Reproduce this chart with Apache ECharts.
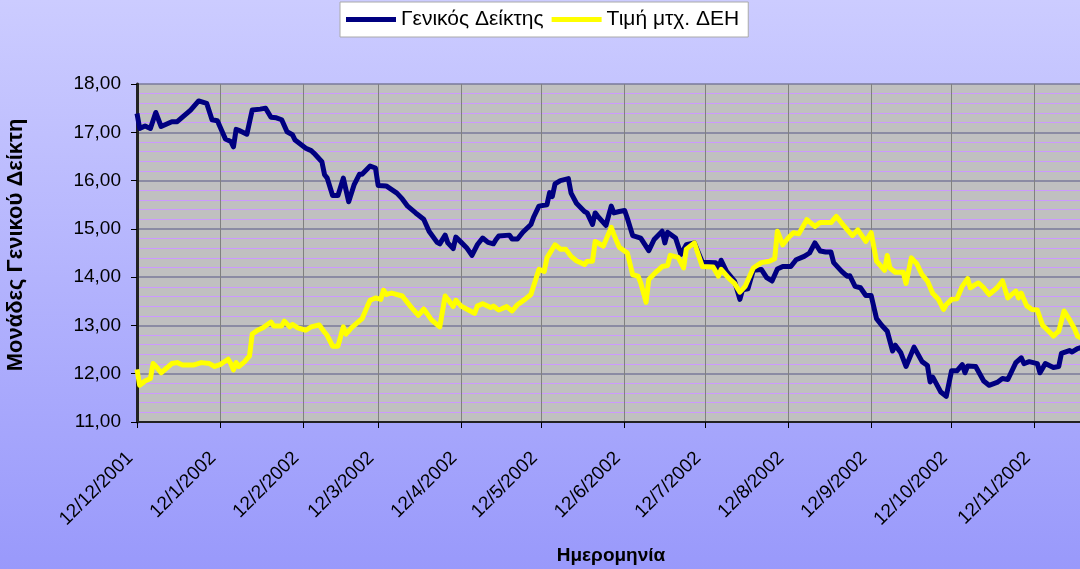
<!DOCTYPE html>
<html>
<head>
<meta charset="utf-8">
<script src="https://cdn.jsdelivr.net/npm/echarts@6/dist/echarts.min.js"></script>
<style>
  html, body { margin: 0; padding: 0; }
  #chart { width: 1080px; height: 569px; }
</style>
</head>
<body>
<div id="chart"></div>
<script>
// Γενικός Δείκτης
var indexDates = ['2001-12-12','2001-12-13','2001-12-15','2001-12-17','2001-12-19','2001-12-21','2001-12-25','2001-12-27',
  '2002-01-01','2002-01-04','2002-01-07','2002-01-09','2002-01-11','2002-01-14','2002-01-16','2002-01-17','2002-01-18','2002-01-19',
  '2002-01-22','2002-01-24','2002-01-27','2002-01-29','2002-01-31','2002-02-02','2002-02-04','2002-02-06','2002-02-08','2002-02-09',
  '2002-02-13','2002-02-15','2002-02-16','2002-02-19','2002-02-20','2002-02-21','2002-02-23','2002-02-25','2002-02-27','2002-03-01',
  '2002-03-03','2002-03-05','2002-03-06','2002-03-09','2002-03-11','2002-03-12','2002-03-15','2002-03-19','2002-03-21','2002-03-23',
  '2002-03-26','2002-03-29','2002-03-31','2002-04-03','2002-04-04','2002-04-06','2002-04-07','2002-04-09','2002-04-10','2002-04-12',
  '2002-04-14','2002-04-16','2002-04-18','2002-04-20','2002-04-22','2002-04-24','2002-04-25','2002-04-26','2002-04-30','2002-05-01',
  '2002-05-03','2002-05-05','2002-05-08','2002-05-09','2002-05-11','2002-05-14','2002-05-15','2002-05-16','2002-05-17','2002-05-19',
  '2002-05-22','2002-05-23','2002-05-25','2002-05-28','2002-05-29','2002-05-31','2002-06-01','2002-06-02','2002-06-05','2002-06-07',
  '2002-06-08','2002-06-10','2002-06-12','2002-06-13','2002-06-15','2002-06-18','2002-06-21','2002-06-23','2002-06-26','2002-06-27',
  '2002-06-28','2002-07-01','2002-07-03','2002-07-05','2002-07-08','2002-07-11','2002-07-16','2002-07-17','2002-07-18','2002-07-20',
  '2002-07-23','2002-07-25','2002-07-26','2002-07-28','2002-07-30','2002-08-02','2002-08-04','2002-08-06','2002-08-08','2002-08-10',
  '2002-08-13','2002-08-15','2002-08-18','2002-08-20','2002-08-22','2002-08-24','2002-08-26','2002-08-28','2002-08-29','2002-09-01',
  '2002-09-03','2002-09-04','2002-09-06','2002-09-08','2002-09-10','2002-09-12','2002-09-14','2002-09-16','2002-09-18','2002-09-20',
  '2002-09-21','2002-09-23','2002-09-25','2002-09-28','2002-10-01','2002-10-03','2002-10-04','2002-10-05','2002-10-08','2002-10-10',
  '2002-10-12','2002-10-14','2002-10-16','2002-10-17','2002-10-18','2002-10-21','2002-10-24','2002-10-26','2002-10-29','2002-10-31',
  '2002-11-02','2002-11-05','2002-11-07','2002-11-08','2002-11-10','2002-11-13','2002-11-14','2002-11-16','2002-11-19','2002-11-21',
  '2002-11-22','2002-11-25','2002-11-26','2002-11-28','2002-11-30','2002-12-02'];
var indexValues = [17.39,17.08,17.13,17.08,17.41,17.12,17.22,17.22,
  17.46,17.65,17.60,17.26,17.24,16.86,16.81,16.70,17.06,17.04,
  16.96,17.46,17.48,17.50,17.31,17.30,17.26,17.01,16.95,16.84,
  16.67,16.62,16.57,16.39,16.12,16.05,15.69,15.69,16.05,15.56,
  15.91,16.13,16.13,16.30,16.26,15.90,15.89,15.74,15.62,15.47,
  15.33,15.20,14.95,14.72,14.69,14.87,14.71,14.59,14.83,14.72,
  14.61,14.45,14.67,14.81,14.72,14.69,14.78,14.85,14.87,14.79,
  14.79,14.93,15.09,15.24,15.47,15.50,15.75,15.67,15.93,16.00,
  16.04,15.74,15.53,15.36,15.33,15.09,15.33,15.26,15.07,15.47,
  15.33,15.36,15.38,15.22,14.86,14.81,14.55,14.78,14.95,14.71,
  14.93,14.81,14.47,14.67,14.71,14.31,14.30,14.17,14.35,14.12,
  13.92,13.54,13.74,13.76,14.14,14.16,13.99,13.92,14.17,14.22,
  14.22,14.36,14.43,14.50,14.71,14.54,14.52,14.52,14.30,14.12,
  14.02,14.03,13.81,13.78,13.62,13.62,13.14,13.00,12.88,12.47,
  12.59,12.44,12.15,12.55,12.25,12.17,11.83,11.93,11.62,11.53,
  12.06,12.06,12.19,12.02,12.16,12.15,11.85,11.76,11.82,11.90,
  11.88,12.23,12.33,12.21,12.25,12.21,12.02,12.21,12.13,12.15,
  12.42,12.48,12.45,12.52,12.55,12.58];

// Τιμή μτχ. ΔΕΗ
var dehDates = ['2001-12-12','2001-12-13','2001-12-15','2001-12-17','2001-12-18','2001-12-19','2001-12-21','2001-12-25','2001-12-27','2001-12-29',
  '2002-01-02','2002-01-05','2002-01-08','2002-01-10','2002-01-12','2002-01-15','2002-01-16','2002-01-17','2002-01-18','2002-01-19',
  '2002-01-21','2002-01-23','2002-01-24','2002-01-26','2002-01-28','2002-01-31','2002-02-01','2002-02-04','2002-02-05','2002-02-07',
  '2002-02-08','2002-02-10','2002-02-13','2002-02-15','2002-02-18','2002-02-20','2002-02-21','2002-02-23','2002-02-25','2002-02-27',
  '2002-02-28','2002-03-02','2002-03-06','2002-03-08','2002-03-09','2002-03-11','2002-03-13','2002-03-14','2002-03-15','2002-03-17',
  '2002-03-21','2002-03-24','2002-03-27','2002-03-29','2002-04-01','2002-04-04','2002-04-06','2002-04-07','2002-04-09','2002-04-10',
  '2002-04-12','2002-04-14','2002-04-17','2002-04-18','2002-04-20','2002-04-23','2002-04-24','2002-04-26','2002-04-29','2002-05-01',
  '2002-05-03','2002-05-06','2002-05-08','2002-05-11','2002-05-13','2002-05-14','2002-05-17','2002-05-19','2002-05-21','2002-05-23',
  '2002-05-25','2002-05-28','2002-05-29','2002-05-31','2002-06-01','2002-06-02','2002-06-04','2002-06-07','2002-06-08','2002-06-10',
  '2002-06-13','2002-06-15','2002-06-17','2002-06-18','2002-06-20','2002-06-21','2002-06-24','2002-06-26','2002-06-28','2002-06-29',
  '2002-07-02','2002-07-04','2002-07-05','2002-07-08','2002-07-11','2002-07-15','2002-07-17','2002-07-18','2002-07-21','2002-07-23',
  '2002-07-25','2002-07-27','2002-07-30','2002-08-02','2002-08-05','2002-08-07','2002-08-08','2002-08-10','2002-08-12','2002-08-14',
  '2002-08-16','2002-08-19','2002-08-22','2002-08-24','2002-08-28','2002-08-30','2002-09-02','2002-09-05','2002-09-07','2002-09-10',
  '2002-09-12','2002-09-14','2002-09-17','2002-09-18','2002-09-19','2002-09-21','2002-09-24','2002-09-25','2002-09-27','2002-09-29',
  '2002-10-01','2002-10-03','2002-10-05','2002-10-07','2002-10-09','2002-10-10','2002-10-12','2002-10-14','2002-10-16','2002-10-18',
  '2002-10-19','2002-10-22','2002-10-24','2002-10-26','2002-10-29','2002-10-31','2002-11-02','2002-11-05','2002-11-06','2002-11-07',
  '2002-11-09','2002-11-11','2002-11-13','2002-11-15','2002-11-16','2002-11-19','2002-11-21','2002-11-23','2002-11-25','2002-11-27',
  '2002-11-28','2002-11-30'];
var dehValues = [12.09,11.76,11.85,11.90,12.21,12.16,12.02,12.21,12.23,12.18,
  12.18,12.23,12.21,12.15,12.19,12.30,12.21,12.08,12.23,12.15,
  12.24,12.37,12.82,12.90,12.95,13.07,12.99,12.99,13.09,12.97,
  13.02,12.95,12.90,12.97,13.01,12.86,12.79,12.57,12.57,12.97,
  12.82,12.95,13.14,13.40,13.52,13.57,13.54,13.73,13.64,13.67,
  13.61,13.40,13.21,13.34,13.11,12.97,13.61,13.54,13.39,13.52,
  13.40,13.34,13.25,13.40,13.45,13.37,13.40,13.32,13.39,13.30,
  13.43,13.55,13.64,14.16,14.12,14.40,14.67,14.58,14.58,14.43,
  14.34,14.26,14.33,14.33,14.74,14.71,14.64,15.03,14.88,14.62,
  14.50,14.05,14.02,13.88,13.48,13.95,14.12,14.22,14.24,14.45,
  14.41,14.19,14.58,14.71,14.22,14.21,14.02,14.16,13.97,13.87,
  13.69,13.81,14.19,14.30,14.33,14.38,14.95,14.67,14.81,14.92,
  14.90,15.19,15.05,15.13,15.13,15.26,15.05,14.86,14.98,14.74,
  14.92,14.33,14.14,14.45,14.19,14.10,14.10,13.87,14.40,14.28,
  14.05,13.92,13.66,13.55,13.33,13.43,13.54,13.55,13.81,13.97,
  13.78,13.88,13.78,13.64,13.78,13.92,13.57,13.71,13.57,13.67,
  13.41,13.33,13.32,13.00,12.95,12.78,12.88,13.30,13.12,12.92,
  12.78,12.72];

var seriesNames = ['Γενικός Δείκτης', 'Τιμή μτχ. ΔΕΗ'];
var tickDates = ['2001-12-12','2002-01-12','2002-02-12','2002-03-12','2002-04-12','2002-05-12','2002-06-12',
  '2002-07-12','2002-08-12','2002-09-12','2002-10-12','2002-11-12'];
var tickLabels = ['12/12/2001','12/1/2002','12/2/2002','12/3/2002','12/4/2002','12/5/2002','12/6/2002',
  '12/7/2002','12/8/2002','12/9/2002','12/10/2002','12/11/2002'];
var axisEnd = '2002-12-12';

function ts(s) { return +echarts.time.parse(s); }
var tickValues = tickDates.map(ts);
var labelByValue = {};
tickValues.forEach(function (v, i) { labelByValue[v] = tickLabels[i]; });

function pairs(dates, values) {
  return dates.map(function (d, i) { return [ts(d), values[i]]; });
}

var myChart = echarts.init(document.getElementById('chart'));
myChart.setOption({
  backgroundColor: new echarts.graphic.LinearGradient(0, 0, 0, 1, [
    { offset: 0, color: '#ccccff' },
    { offset: 1, color: '#9999fb' }
  ]),
  animation: false,
  textStyle: { fontFamily: 'Liberation Sans, Arial, sans-serif' },
  legend: {
    left: 340,
    top: 2,
    padding: [7, 9, 7, 6],
    itemGap: 8,
    itemWidth: 50,
    itemHeight: 5,
    icon: 'rect',
    backgroundColor: '#ffffff',
    borderColor: '#aaaaaa',
    borderWidth: 1,
    textStyle: { fontSize: 21, color: '#000' },
    data: seriesNames
  },
  grid: {
    show: true,
    left: 137,
    top: 84,
    width: 978,
    height: 338,
    outerBoundsMode: 'none',
    containLabel: false,
    backgroundColor: '#c0c0c0',
    borderWidth: 0
  },
  xAxis: {
    type: 'value',
    min: tickValues[0],
    max: ts(axisEnd),
    name: 'Ημερομηνία',
    nameLocation: 'middle',
    nameGap: 124,
    nameTextStyle: { fontSize: 19, fontWeight: 'bold', color: '#000', padding: [0, 30, 0, 0] },
    axisLine: { lineStyle: { color: '#222', width: 2 } },
    axisTick: { show: true, length: 6, inside: false, customValues: tickValues, lineStyle: { color: '#000' } },
    axisLabel: {
      customValues: tickValues,
      rotate: 45,
      margin: 26,
      padding: [0, 10, 0, 0],
      fontSize: 19,
      color: '#000',
      formatter: function (v) { return labelByValue[v] || ''; }
    },
    splitLine: { show: true, lineStyle: { color: '#808080', width: 1 } }
  },
  yAxis: {
    type: 'value',
    min: 11,
    max: 18,
    interval: 1,
    name: 'Μονάδες Γενικού Δείκτη',
    nameLocation: 'middle',
    nameGap: 110,
    nameTextStyle: { fontSize: 22, fontWeight: 'bold', color: '#000', padding: [0, 0, 0, 16] },
    axisLine: { show: true, lineStyle: { color: '#222', width: 3 } },
    axisTick: { show: true, length: 6, lineStyle: { color: '#000' } },
    axisLabel: {
      fontSize: 19,
      margin: 16,
      color: '#000',
      formatter: function (v) { return v.toFixed(2).replace('.', ','); }
    },
    splitLine: { show: true, lineStyle: { color: '#7a7a9a', width: 1.5 } },
    minorTick: { show: false, splitNumber: 5 },
    minorSplitLine: { show: true, lineStyle: { color: '#cc99ff', width: 1 } }
  },
  series: [{
    name: seriesNames[0],
    type: 'line',
    symbol: 'none',
    lineStyle: { color: '#000080', width: 5, join: 'round' },
    itemStyle: { color: '#000080' },
    data: pairs(indexDates, indexValues)
  }, {
    name: seriesNames[1],
    type: 'line',
    symbol: 'none',
    lineStyle: { color: '#ffff00', width: 5, join: 'round' },
    itemStyle: { color: '#ffff00' },
    data: pairs(dehDates, dehValues)
  }]
});
</script>
</body>
</html>
